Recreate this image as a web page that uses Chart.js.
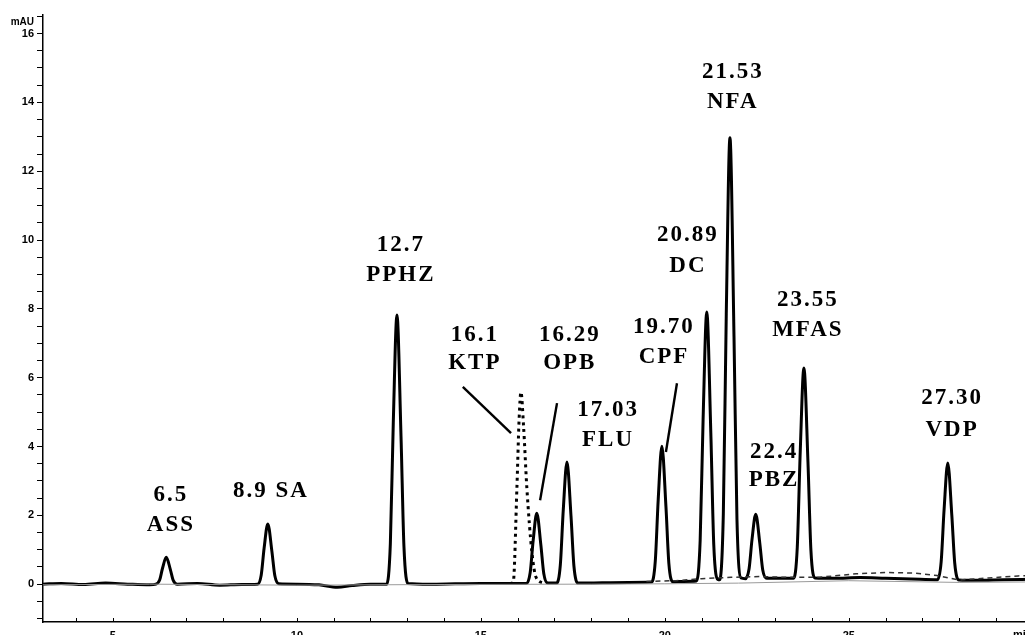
<!DOCTYPE html>
<html>
<head>
<meta charset="utf-8">
<script src="https://cdn.jsdelivr.net/npm/chart.js@4/dist/chart.umd.min.js"></script>
<style>
  html, body { margin: 0; padding: 0; background: #fff; }
  #wrap { width: 1025px; height: 635px; overflow: hidden; position: relative; }
  #myChart { position: absolute; left: 0; top: 0; }
</style>
</head>
<body>
<div id="wrap"><canvas id="myChart" width="1060" height="650"></canvas></div>
<script>
// main chromatogram (solid) : time in min, absorbance in mAU
const time = [
  3.1, 3.6, 4.2, 4.8, 5.4, 6.0,
  6.17, 6.27, 6.35, 6.45, 6.56, 6.64, 6.75,
  7.3, 7.9, 8.5,
  8.93, 9.03, 9.11, 9.21, 9.32, 9.40, 9.51,
  10.0, 10.6, 11.1, 11.5, 12.0,
  12.44, 12.54, 12.62, 12.72, 12.83, 12.91, 13.02,
  13.6, 14.3, 15.0, 15.7,
  16.24, 16.34, 16.42, 16.52, 16.63, 16.71, 16.82,
  17.06, 17.16, 17.24, 17.34, 17.45, 17.53, 17.64,
  18.3, 19.0,
  19.64, 19.74, 19.82, 19.92, 20.03, 20.11, 20.22,
  20.5,
  20.86, 20.96, 21.04, 21.14, 21.25, 21.33, 21.44,
  21.49,
  21.59, 21.67, 21.77, 21.88, 21.96, 22.07,
  22.19, 22.29, 22.37, 22.47, 22.58, 22.66, 22.77,
  23.2,
  23.50, 23.60, 23.68, 23.78, 23.89, 23.97, 24.08,
  24.6, 25.3, 26.0, 26.7,
  27.41, 27.51, 27.59, 27.69, 27.80, 27.88, 27.99,
  28.5, 29.2, 29.9, 30.7
];
const absorb = [
  0.00, 0.02, -0.01, 0.03, 0.00, -0.02,
  0.00, 0.12, 0.47, 0.78, 0.43, 0.11, 0.00,
  0.02, -0.03, -0.01,
  0.00, 0.26, 1.05, 1.75, 0.96, 0.25, 0.01,
  0.00, -0.02, -0.09, -0.04, 0.00,
  0.00, 1.17, 4.69, 7.82, 4.30, 1.09, 0.02,
  0.00, 0.01, 0.02, 0.02,
  0.02, 0.33, 1.25, 2.06, 1.15, 0.31, 0.03,
  0.03, 0.56, 2.16, 3.55, 1.98, 0.52, 0.03,
  0.04, 0.05,
  0.06, 0.66, 2.45, 4.01, 2.26, 0.60, 0.07,
  0.08,
  0.09, 1.26, 4.78, 7.91, 4.40, 1.15, 0.14,
  0.13,
  2.05, 7.85, 12.97, 7.20, 1.90, 0.18,
  0.16, 0.45, 1.30, 2.03, 1.20, 0.42, 0.17,
  0.17,
  0.17, 1.08, 3.84, 6.28, 3.55, 0.99, 0.18,
  0.17, 0.19, 0.17, 0.15,
  0.13, 0.65, 2.17, 3.52, 2.00, 0.60, 0.12,
  0.11, 0.13, 0.14, 0.15
];

// KTP run (dotted)
const ktpTime = [15.80, 15.88, 15.98, 16.04, 16.09, 16.16, 16.25, 16.39, 16.50, 16.70];
const ktpAbs  = [0.02, 0.05, 2.80, 4.80, 5.58, 4.60, 2.80, 0.90, 0.20, 0.03];

// other runs near the baseline (dashed / thin)
const blankTime = [19.5, 20.3, 21.0, 21.8, 22.6, 23.3, 24.2, 25.2, 26.0, 26.8, 27.4, 28.0, 28.8, 29.6, 30.7];
const blankAbs  = [0.08, 0.10, 0.16, 0.20, 0.22, 0.20, 0.20, 0.30, 0.34, 0.32, 0.25, 0.12, 0.18, 0.24, 0.26];
const greyTime = [3.1, 6.0, 10.0, 14.0, 18.0, 20.0, 22.0, 25.0, 28.0, 30.7];
const greyAbs  = [-0.02, 0.00, -0.03, -0.01, 0.00, 0.01, 0.03, 0.10, 0.05, 0.07];

// peak annotations
const peakTimes = ["6.5", "8.9", "12.7", "16.1", "16.29", "17.03", "19.70", "20.89", "21.53", "22.4", "23.55", "27.30"];
const peakNames = ["ASS", "SA", "PPHZ", "KTP", "OPB", "FLU", "CPF", "DC", "NFA", "PBZ", "MFAS", "VDP"];

// tick labels
const xTickLabels = [5, 10, 15, 20, 25];
const yTickLabels = [0, 2, 4, 6, 8, 10, 12, 14, 16];

// layout of the annotation text (value coords: x, line1 y, line2 y)
const labelSpots = [
  [6.55, 2.59, 1.72],
  [9.27, 2.70, null],
  [12.80, 9.85, 8.98],
  [14.81, 7.24, 6.42],
  [17.39, 7.24, 6.42],
  [18.43, 5.06, 4.19],
  [19.95, 7.47, 6.60],
  [20.60, 10.15, 9.24],
  [21.82, 14.88, 14.01],
  [22.94, 3.84, 3.02],
  [23.86, 8.26, 7.38],
  [27.78, 5.41, 4.48]
];
// leader lines (value coords)
const pointers = [
  [[14.51, 5.73], [15.82, 4.39]],
  [[17.07, 5.26], [16.61, 2.44]],
  [[20.33, 5.84], [20.03, 3.84]]
];

const toXY = (xs, ys) => xs.map((x, i) => ({ x: x, y: ys[i] }));

const datasets = [
  {
    data: toXY(greyTime, greyAbs),
    borderColor: "#9a9a9a",
    borderWidth: 1,
  },
  {
    data: toXY(blankTime, blankAbs),
    borderColor: "#333",
    borderWidth: 1.5,
    borderDash: [5, 4],
  },
  {
    data: toXY(ktpTime, ktpAbs),
    borderColor: "#000",
    borderWidth: 3,
    borderDash: [3, 4],
    cubicInterpolationMode: "monotone",
  },
  {
    data: toXY(time, absorb),
    borderColor: "#000",
    borderWidth: 3,
    cubicInterpolationMode: "monotone",
  },
];
pointers.forEach((p) => {
  datasets.push({
    data: p.map((q) => ({ x: q[0], y: q[1] })),
    borderColor: "#000",
    borderWidth: 2.4,
  });
});

// text + inward ticks on x axis
const extras = {
  id: "extras",
  afterDraw(chart) {
    const ctx = chart.ctx;
    const xs = chart.scales.x;
    const ys = chart.scales.y;
    ctx.save();
    // x minor ticks pointing up
    ctx.strokeStyle = "#000";
    ctx.lineWidth = 1;
    xs.ticks.forEach((t) => {
      const px = Math.round(xs.getPixelForValue(t.value)) + 0.5;
      ctx.beginPath();
      ctx.moveTo(px, xs.top);
      ctx.lineTo(px, xs.top - 4);
      ctx.stroke();
    });
    // unit texts
    ctx.fillStyle = "#000";
    ctx.font = 'bold 10px "Liberation Sans", Arial, sans-serif';
    ctx.textAlign = "right";
    ctx.textBaseline = "middle";
    ctx.fillText("mAU", chart.chartArea.left - 9, 22);
    ctx.font = 'bold 11px "Liberation Sans", Arial, sans-serif';
    ctx.textAlign = "left";
    ctx.textBaseline = "top";
    ctx.fillText("min", xs.getPixelForValue(29.46), xs.top + 7);
    // peak labels
    ctx.font = 'bold 23px "Liberation Serif", "Times New Roman", serif';
    ctx.letterSpacing = "2px";
    ctx.textAlign = "center";
    ctx.textBaseline = "middle";
    labelSpots.forEach((s, i) => {
      const px = xs.getPixelForValue(s[0]) + 1;
      if (s[2] === null) {
        ctx.fillText(peakTimes[i] + " " + peakNames[i], px, ys.getPixelForValue(s[1]));
      } else {
        ctx.fillText(peakTimes[i], px, ys.getPixelForValue(s[1]));
        ctx.fillText(peakNames[i], px, ys.getPixelForValue(s[2]));
      }
    });
    ctx.restore();
  },
};

new Chart(document.getElementById("myChart").getContext("2d"), {
  type: "line",
  data: { datasets: datasets },
  options: {
    responsive: false,
    animation: false,
    devicePixelRatio: 1,
    layout: { padding: { top: 15, left: 0, right: 0, bottom: 0 } },
    elements: { point: { radius: 0 }, line: { tension: 0, fill: false } },
    plugins: { legend: { display: false }, tooltip: { enabled: false } },
    scales: {
      x: {
        type: "linear",
        min: 3.1,
        max: 30.74,
        afterFit: (s) => { s.height = 28; },
        grid: { drawOnChartArea: false, drawTicks: false },
        border: { color: "#000", width: 1.5 },
        ticks: {
          stepSize: 1,
          includeBounds: false,
          autoSkip: false,
          maxRotation: 0,
          padding: 7,
          color: "#000",
          font: { family: '"Liberation Sans", Arial, sans-serif', size: 11, weight: "bold" },
          callback: (v) => (xTickLabels.includes(v) ? String(v) : ""),
        },
      },
      y: {
        min: -1.1,
        max: 16.54,
        afterFit: (s) => { s.width = 43; },
        grid: { drawOnChartArea: false, drawTicks: true, tickLength: 6, color: "#000" },
        border: { color: "#000", width: 1.5 },
        ticks: {
          stepSize: 0.5,
          includeBounds: false,
          autoSkip: false,
          padding: 3,
          color: "#000",
          font: { family: '"Liberation Sans", Arial, sans-serif', size: 11, weight: "bold" },
          callback: (v) => (yTickLabels.includes(v) ? String(v) : ""),
        },
      },
    },
  },
  plugins: [extras],
});
</script>
</body>
</html>
